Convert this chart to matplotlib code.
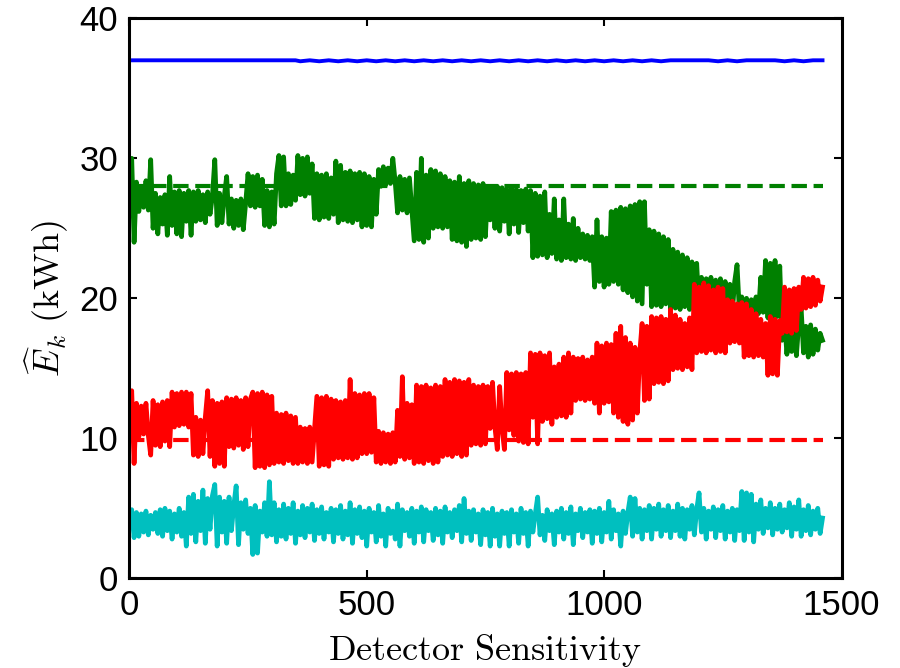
import numpy as np
import matplotlib
matplotlib.use("Agg")
import matplotlib.pyplot as plt

# ---------------- data ----------------
sensitivity = np.arange(0, 1461, 5)   # detector sensitivity sample positions

green_est = [
    26.5, 30.0, 24.0, 28.3, 26.2, 28.0, 26.5, 28.4, 26.3, 29.9, 25.0, 27.5, 24.6, 27.2, 25.3, 27.4, 24.5, 28.7, 25.2, 27.6,
    24.6, 27.7, 24.4, 27.5, 25.5, 27.7, 24.5, 27.6, 25.5, 27.7, 25.6, 27.4, 25.4, 27.6, 26.0, 27.3, 29.9, 25.2, 27.5, 25.4,
    27.3, 28.7, 25.3, 27.1, 25.0, 27.0, 25.2, 27.1, 24.9, 26.8, 28.9, 26.6, 28.7, 26.5, 28.8, 26.6, 28.5, 25.2, 27.7, 25.1,
    27.6, 25.3, 28.9, 30.2, 26.6, 30.1, 26.6, 28.9, 26.7, 28.8, 27.0, 30.2, 27.4, 30.0, 27.3, 30.1, 27.5, 29.6, 25.7, 28.9,
    25.6, 28.8, 25.8, 28.9, 25.7, 28.6, 26.0, 29.8, 25.4, 29.5, 25.6, 29.0, 25.5, 29.1, 25.4, 28.9, 25.6, 29.0, 25.1, 28.9,
    25.2, 28.7, 25.1, 28.5, 26.0, 29.2, 28.0, 29.4, 28.1, 29.3, 28.2, 30.0, 28.3, 26.1, 28.7, 26.3, 28.5, 26.1, 28.6, 26.4,
    24.1, 29.0, 24.2, 30.0, 24.0, 28.8, 24.3, 29.2, 25.0, 29.1, 25.1, 28.9, 25.0, 28.7, 25.1, 28.4, 24.2, 28.3, 24.1, 28.7,
    24.0, 28.2, 23.7, 28.4, 24.2, 28.2, 24.3, 28.1, 24.2, 28.2, 24.4, 28.0, 25.6, 27.9, 25.0, 28.0, 24.8, 27.9, 25.5, 27.8,
    24.6, 27.9, 25.3, 27.8, 24.7, 27.7, 25.4, 27.8, 24.8, 27.7, 22.9, 27.5, 23.0, 27.3, 23.1, 27.6, 22.9, 26.0, 23.2, 27.1,
    22.8, 25.6, 22.7, 27.1, 22.9, 25.3, 22.8, 25.7, 22.7, 25.0, 22.9, 24.6, 22.8, 24.5, 22.7, 24.4, 20.8, 25.6, 21.2, 24.4,
    20.8, 24.3, 21.0, 26.2, 21.2, 26.3, 21.0, 26.5, 20.6, 26.4, 20.4, 26.6, 20.1, 26.7, 19.8, 26.9, 19.6, 26.9, 21.0, 24.9,
    19.4, 24.8, 19.5, 24.6, 19.4, 24.4, 19.6, 24.2, 19.2, 23.5, 19.3, 23.3, 19.2, 23.1, 19.4, 22.9, 19.2, 22.6, 19.3, 22.5,
    19.1, 21.5, 19.0, 21.4, 19.1, 21.5, 19.0, 21.3, 19.2, 21.4, 19.0, 21.2, 19.1, 21.0, 19.0, 21.2, 22.4, 19.0, 20.1, 18.8,
    20.0, 18.9, 19.9, 18.8, 20.1, 18.9, 21.5, 19.0, 22.7, 18.6, 22.5, 18.5, 22.7, 18.7, 22.3, 17.0, 18.5, 16.0, 18.3, 16.2,
    18.4, 15.9, 18.2, 19.3, 16.1, 18.0, 15.8, 18.1, 16.0, 17.8, 16.3, 17.5, 17.0,
]

red_est = [
    11.0, 13.4, 8.2, 12.5, 10.1, 12.3, 10.3, 12.5, 10.2, 8.8, 12.7, 9.5, 12.4, 9.4, 12.6, 9.8, 12.7, 9.4, 13.3, 10.8,
    13.2, 10.9, 13.3, 11.0, 13.3, 10.8, 13.2, 8.8, 11.5, 8.7, 11.3, 8.9, 11.5, 13.4, 8.7, 12.7, 8.0, 12.5, 8.2, 12.6,
    8.0, 12.9, 9.4, 12.8, 9.3, 12.9, 9.5, 12.7, 9.2, 12.9, 9.4, 12.8, 13.3, 7.9, 13.2, 8.0, 13.3, 7.9, 13.1, 8.1,
    13.0, 8.2, 11.8, 8.3, 11.7, 8.2, 11.8, 8.4, 11.6, 8.2, 11.5, 8.2, 10.8, 8.3, 10.7, 8.2, 10.8, 8.3, 10.6, 13.0,
    8.0, 12.9, 8.1, 13.0, 8.0, 12.8, 8.5, 12.7, 8.6, 12.6, 8.5, 12.7, 8.6, 14.2, 8.5, 13.2, 8.6, 13.1, 8.9, 13.2,
    8.9, 13.2, 9.0, 12.9, 8.3, 10.5, 8.2, 10.4, 8.3, 10.3, 8.2, 10.4, 8.3, 12.0, 8.7, 14.4, 8.5, 12.5, 8.6, 12.4,
    8.2, 13.8, 8.3, 13.7, 8.2, 13.8, 8.4, 13.6, 8.2, 13.8, 8.3, 13.7, 8.7, 14.2, 8.8, 14.0, 8.7, 14.2, 8.9, 14.1,
    8.7, 14.0, 8.8, 14.2, 9.5, 13.8, 9.6, 13.7, 9.5, 13.8, 9.6, 13.7, 10.7, 14.0, 10.8, 9.2, 13.7, 10.7, 9.2, 14.7,
    10.6, 14.6, 10.2, 14.7, 9.8, 14.6, 9.7, 14.7, 9.6, 16.1, 11.5, 16.0, 9.6, 16.1, 11.2, 15.9, 11.4, 16.1, 11.0, 15.1,
    11.5, 15.3, 11.6, 15.8, 11.5, 16.1, 11.8, 15.8, 12.7, 15.7, 12.8, 15.8, 12.7, 15.6, 12.8, 15.8, 12.5, 16.8, 11.8, 16.6,
    12.5, 16.8, 12.6, 16.7, 11.8, 17.5, 11.5, 18.0, 11.2, 17.2, 11.0, 16.8, 11.3, 16.5, 11.8, 16.1, 18.2, 12.7, 18.0, 12.8,
    18.7, 13.9, 18.6, 14.0, 18.7, 13.9, 18.5, 14.1, 19.2, 14.9, 18.8, 15.0, 18.5, 14.9, 18.2, 15.1, 18.6, 14.9, 21.0, 16.1,
    20.8, 16.2, 21.1, 16.1, 20.9, 16.3, 20.6, 16.1, 20.8, 16.2, 20.7, 16.1, 19.9, 16.8, 19.8, 16.9, 19.6, 16.8, 19.7, 15.8,
    19.6, 15.9, 19.2, 15.8, 18.9, 15.9, 18.5, 15.8, 18.2, 14.5, 18.7, 14.6, 18.5, 14.5, 18.4, 17.5, 20.8, 17.6, 20.6, 17.5,
    20.7, 17.7, 20.8, 19.2, 21.5, 19.3, 21.4, 19.4, 21.5, 19.5, 21.3, 19.8, 20.8,
]

cyan_est = [
    4.0, 4.9, 2.9, 4.7, 3.0, 4.6, 3.3, 4.8, 3.1, 4.5, 3.5, 4.7, 3.2, 4.9, 3.0, 5.0, 3.4, 4.8, 2.8, 4.6,
    3.3, 5.0, 3.0, 4.7, 2.3, 5.8, 3.2, 6.0, 2.6, 5.5, 3.4, 6.3, 2.5, 5.7, 3.5, 5.9, 6.7, 2.3, 5.8, 3.3,
    5.5, 2.5, 5.8, 3.4, 5.2, 6.6, 2.4, 5.4, 3.5, 5.6, 3.2, 5.0, 1.7, 5.2, 1.8, 4.8, 3.3, 5.4, 3.0, 6.9,
    3.1, 5.4, 2.6, 4.9, 3.0, 5.3, 2.8, 5.0, 3.2, 5.4, 2.5, 4.8, 3.1, 5.2, 2.9, 5.0, 3.3, 5.3, 2.7, 4.9,
    3.2, 5.1, 2.8, 4.7, 3.3, 5.0, 2.6, 4.9, 3.2, 5.2, 2.8, 4.8, 3.1, 5.4, 2.5, 4.9, 3.2, 5.1, 2.9, 4.8,
    2.3, 5.0, 3.3, 4.7, 2.6, 5.2, 3.0, 4.6, 2.3, 5.0, 3.2, 4.8, 2.8, 5.3, 2.3, 4.9, 3.4, 4.7, 3.0, 5.0,
    2.5, 4.8, 3.3, 5.1, 2.6, 4.9, 3.4, 4.7, 2.7, 5.0, 3.1, 4.8, 2.5, 5.1, 3.3, 4.7, 2.9, 4.9, 3.4, 5.2,
    2.6, 5.7, 3.2, 4.8, 2.7, 4.9, 3.3, 4.6, 2.4, 4.9, 3.1, 4.7, 2.3, 5.0, 3.0, 4.6, 2.3, 4.8, 3.2, 4.7,
    2.3, 4.9, 3.3, 4.6, 2.5, 5.0, 3.2, 4.7, 2.3, 4.8, 3.3, 4.6, 5.8, 3.1, 4.5, 2.7, 4.9, 3.4, 4.6, 2.4,
    4.8, 3.3, 5.0, 2.8, 4.7, 3.2, 5.1, 2.4, 4.6, 3.4, 5.0, 2.9, 4.7, 3.3, 4.9, 2.5, 4.8, 3.2, 5.0, 2.6,
    4.7, 3.3, 5.5, 2.8, 4.9, 3.4, 4.6, 2.3, 4.8, 3.2, 4.7, 5.8, 3.0, 5.7, 3.3, 5.0, 2.8, 4.9, 3.4, 5.2,
    2.8, 5.0, 3.5, 5.3, 3.0, 4.9, 3.4, 5.2, 2.9, 4.8, 3.4, 5.3, 3.0, 5.0, 2.8, 4.9, 3.5, 5.2, 3.1, 4.9,
    6.1, 3.3, 5.0, 2.8, 4.8, 3.5, 5.1, 2.9, 4.9, 3.4, 5.2, 2.8, 4.8, 3.3, 5.0, 2.7, 4.9, 3.4, 6.2, 2.7,
    6.1, 3.3, 6.0, 2.6, 5.3, 3.5, 5.6, 3.2, 5.0, 3.6, 5.4, 3.1, 5.0, 3.5, 5.3, 3.3, 4.9, 3.6, 5.4, 3.0,
    5.1, 3.5, 5.6, 3.0, 4.9, 3.4, 5.2, 3.1, 4.8, 3.5, 5.0, 3.2, 4.3,
]

blue_x = [0, 350] + list(range(360, 1461, 20))
blue_est = [37.0, 37.0] + [
    36.93, 37.0, 36.93, 37.0, 36.93, 37.0, 36.93, 37.0, 36.93, 37.0,
    36.93, 37.0, 36.93, 37.0, 36.93, 37.0, 36.93, 37.0, 36.93, 37.0,
    36.93, 37.0, 36.93, 37.0, 36.93, 37.0, 36.93, 37.0, 36.93, 37.0,
    36.93, 37.0, 36.93, 37.0, 36.93, 37.0, 36.93, 37.0, 36.93, 37.0,
    37.0, 37.0, 37.0, 37.0,
    36.93, 37.0, 36.93, 37.0,
    37.0, 37.0, 37.0,
    36.93, 37.0, 36.93, 37.0,
    37.0,
]

ref_x = [0, 1460]
green_true = [28.0, 28.0]
red_true = [9.9, 9.9]

xticks = [0, 500, 1000, 1500]
yticks = [0, 10, 20, 30, 40]

# ---------------- style ----------------
plt.rcParams['mathtext.fontset'] = 'cm'
plt.rcParams['font.family'] = ['Liberation Sans', 'DejaVu Sans']

C_BLUE = (0, 0, 1)
C_GREEN = (0, 0.5, 0)
C_RED = (1, 0, 0)
C_CYAN = (0, 0.75, 0.75)
LW = 3.4

fig = plt.figure(figsize=(9, 6.68), dpi=100)
ax = fig.add_axes([0.1437, 0.1343, 0.7913, 0.8383])

ax.plot(blue_x, blue_est, color=C_BLUE, lw=2.8)
ax.plot(sensitivity, green_est, color=C_GREEN, lw=LW)
ax.plot(sensitivity, red_est, color=C_RED, lw=LW)
ax.plot(sensitivity, cyan_est, color=C_CYAN, lw=LW)
ax.plot(ref_x, green_true, color=C_GREEN, lw=3.0, ls='--')
ax.plot(ref_x, red_true, color=C_RED, lw=3.0, ls='--')

ax.set_xlim(0, 1500)
ax.set_ylim(0, 40)
ax.set_xticks(xticks)
ax.set_yticks(yticks)
ax.tick_params(direction='in', length=6, width=1.5, top=True, right=True,
               labelsize=25, pad=8)
for s in ax.spines.values():
    s.set_linewidth(2.2)

ax.set_xlabel(r'$\mathrm{Detector\ Sensitivity}$', fontsize=26, labelpad=7)
ax.set_ylabel(r'$\widehat{E}_k\ (\mathrm{kWh})$', fontsize=26, labelpad=6)

fig.savefig('out.png', dpi=100)
